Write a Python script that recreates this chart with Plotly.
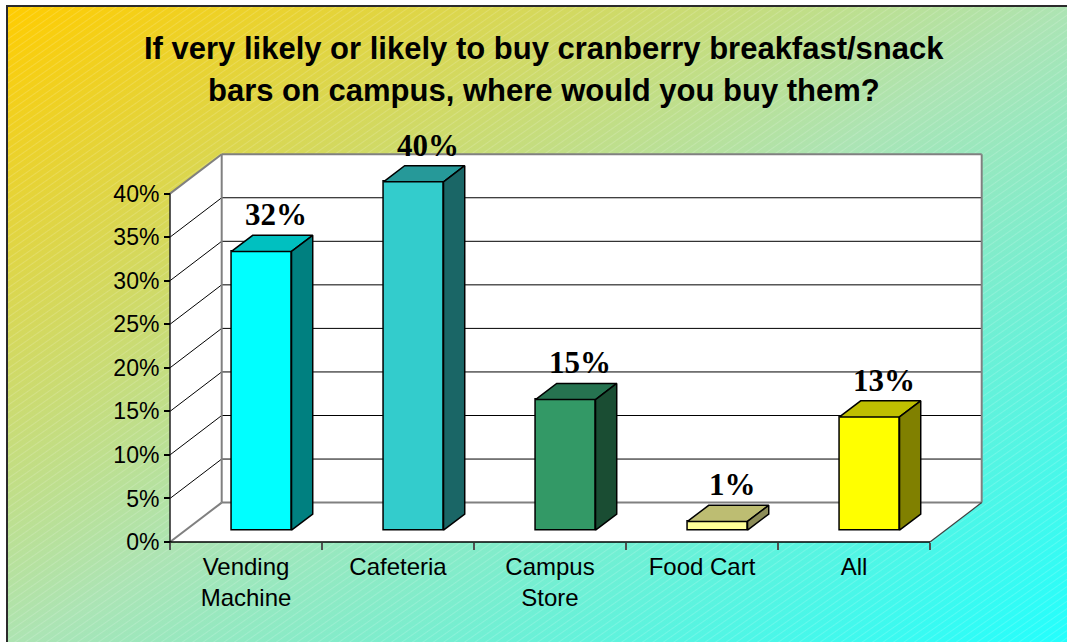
import base64
import plotly.graph_objects as go

# ---- data -------------------------------------------------------------
categories = ["Vending<br>Machine", "Cafeteria", "Campus<br>Store", "Food Cart", "All"]
shares = [32, 40, 15, 1, 13]            # percent of respondents
y_ticks = [0, 5, 10, 15, 20, 25, 30, 35, 40]

# ---- styles -----------------------------------------------------------
front_colors = ["#00FFFF", "#33CCCC", "#339966", "#FFFF99", "#FFFF00"]
top_colors = ["#00C0C0", "#269999", "#267350", "#BDBD72", "#BFBF00"]
side_colors = ["#008080", "#1A6666", "#1A4D33", "#8C8C58", "#808000"]

W, H = 1067, 642

# front plane of the 3-D box, in page pixels
FRONT_LEFT_PX, FRONT_RIGHT_PX = 170.0, 930.0
ZERO_PX, TOP_PX = 542.0, 193.6
n = len(categories)
y_max = y_ticks[-1]
px_per_x = (FRONT_RIGHT_PX - FRONT_LEFT_PX) / n
px_per_y = (ZERO_PX - TOP_PX) / y_max

# depth of the box expressed in axis units
DEPTH_X = 51.7 / px_per_x
DEPTH_Y = 39.4 / px_per_y

# bar geometry (fractions of category width / box depth)
BAR_W = 0.395
BAR_Z0 = 0.30
BAR_DEPTH = 0.41

x_lo, x_hi = -0.5, n - 0.5
x_range = [-0.6, x_hi + DEPTH_X + 0.06]
y_range = [-1.5, y_max + DEPTH_Y + 1.0]


def x_px(v):
    return FRONT_LEFT_PX + (v - x_lo) * px_per_x


def y_px(v):
    return ZERO_PX - v * px_per_y


x_domain = [x_px(x_range[0]) / W, x_px(x_range[1]) / W]
y_domain = [1 - y_px(y_range[0]) / H, 1 - y_px(y_range[1]) / H]

# ---- background: diagonal gradient inside a framed panel ---------------
svg = f"""<svg xmlns="http://www.w3.org/2000/svg" width="{W}" height="{H}" viewBox="0 0 {W} {H}">
<defs>
<linearGradient id="g" x1="0" y1="0" x2="1" y2="1">
<stop offset="0" stop-color="#FFCC00"/>
<stop offset="0.5" stop-color="#ACE4B4"/>
<stop offset="1" stop-color="#1FFFFF"/>
</linearGradient>
<pattern id="h" width="6" height="6" patternUnits="userSpaceOnUse" patternTransform="rotate(-35)">
<line x1="0" y1="0.5" x2="6" y2="0.5" stroke="#FFFFFF" stroke-width="1" stroke-opacity="0.16"/>
</pattern>
</defs>
<rect width="{W}" height="{H}" fill="#FFFFFF"/>
<rect x="7" y="6" width="{W + 4}" height="{H + 4}" fill="url(#g)" stroke="#2B2B2B" stroke-width="2"/>
<rect x="8" y="7" width="{W}" height="{H}" fill="url(#h)"/>
</svg>"""
bg_uri = "data:image/svg+xml;base64," + base64.b64encode(svg.encode()).decode()

fig = go.Figure()

# ---- box walls, floor and grid ----------------------------------------
bx0, bx1 = x_lo + DEPTH_X, x_hi + DEPTH_X
shapes = []


def poly(pts, fill, line_color=None, width=0):
    path = "M " + " L ".join(f"{x},{y}" for x, y in pts) + " Z"
    return dict(type="path", path=path, xref="x", yref="y", layer="below",
                fillcolor=fill, line=dict(color=line_color or fill, width=width))


def seg(x0, y0, x1, y1, color, width):
    return dict(type="line", x0=x0, y0=y0, x1=x1, y1=y1, xref="x", yref="y",
                layer="below", line=dict(color=color, width=width))


shapes.append(poly([(x_lo, 0), (x_lo, y_max), (bx0, y_max + DEPTH_Y), (bx0, DEPTH_Y)], "#FFFFFF"))
shapes.append(poly([(bx0, DEPTH_Y), (bx0, y_max + DEPTH_Y), (bx1, y_max + DEPTH_Y), (bx1, DEPTH_Y)], "#FFFFFF"))
shapes.append(poly([(x_lo, 0), (x_hi, 0), (bx1, DEPTH_Y), (bx0, DEPTH_Y)], "#FFFFFF"))

for v in y_ticks[1:-1]:
    shapes.append(seg(x_lo, v, bx0, v + DEPTH_Y, "#000000", 1))
    shapes.append(seg(bx0, v + DEPTH_Y, bx1, v + DEPTH_Y, "#000000", 1))

GRAY = "#808080"
shapes += [
    seg(x_lo, y_max, bx0, y_max + DEPTH_Y, GRAY, 2),
    seg(bx0, y_max + DEPTH_Y, bx1, y_max + DEPTH_Y, GRAY, 2),
    seg(bx1, y_max + DEPTH_Y, bx1, DEPTH_Y, GRAY, 2),
    seg(bx0, DEPTH_Y, bx1, DEPTH_Y, GRAY, 2),
    seg(bx0, DEPTH_Y, bx0, y_max + DEPTH_Y, GRAY, 2),
    seg(x_lo, 0, bx0, DEPTH_Y, GRAY, 2),
    seg(x_hi, 0, bx1, DEPTH_Y, "#404040", 1.2),
    seg(x_lo, 0, x_lo, y_max, "#202020", 1.5),
    seg(x_lo, 0, x_hi, 0, "#000000", 1.5),
]

# ---- bars: front faces drawn as a bar trace, tops and sides as polygons --
shift_x = BAR_Z0 * DEPTH_X
base = BAR_Z0 * DEPTH_Y
dx = BAR_DEPTH * DEPTH_X
dy = BAR_DEPTH * DEPTH_Y
xs = [i + shift_x for i in range(n)]

fig.add_trace(go.Bar(
    x=xs, y=shares, base=base, width=BAR_W,
    marker=dict(color=front_colors, line=dict(color="#000000", width=1.5)),
    hoverinfo="skip", showlegend=False,
))

for i, v in enumerate(shares):
    xl = xs[i] - BAR_W / 2
    xr = xs[i] + BAR_W / 2
    top = base + v
    fig.add_trace(go.Scatter(
        x=[xl, xr, xr + dx, xl + dx, xl], y=[top, top, top + dy, top + dy, top],
        mode="lines", fill="toself", fillcolor=top_colors[i],
        line=dict(color="#000000", width=1.5), hoverinfo="skip", showlegend=False,
    ))
    fig.add_trace(go.Scatter(
        x=[xr, xr + dx, xr + dx, xr, xr], y=[base, base + dy, top + dy, top, base],
        mode="lines", fill="toself", fillcolor=side_colors[i],
        line=dict(color="#000000", width=1.5), hoverinfo="skip", showlegend=False,
    ))

# value labels above each bar
annotations = []
for i, v in enumerate(shares):
    annotations.append(dict(
        x=i + 0.2, y=base + v + dy, xref="x", yref="y",
        text=f"<b>{v}%</b>", showarrow=False, xanchor="center", yanchor="bottom",
        yshift=1, font=dict(family="Liberation Serif", size=31, color="#000000"),
    ))

# two-line title
title_lines = ["If very likely or likely to buy cranberry breakfast/snack",
               "bars on campus, where would you buy them?"]
for k, (line, cy) in enumerate(zip(title_lines, [48.5, 90.5])):
    annotations.append(dict(
        x=544 / W, y=1 - cy / H, xref="paper", yref="paper",
        text=f"<b>{line}</b>", showarrow=False, xanchor="center", yanchor="middle",
        font=dict(family="Liberation Sans", size=31, color="#000000"),
    ))

fig.update_layout(
    width=W, height=H,
    margin=dict(l=0, r=0, t=0, b=0),
    paper_bgcolor="#FFFFFF",
    plot_bgcolor="rgba(0,0,0,0)",
    showlegend=False,
    shapes=shapes,
    annotations=annotations,
    images=[dict(source=bg_uri, xref="paper", yref="paper", x=0, y=1,
                 sizex=1, sizey=1, xanchor="left", yanchor="top",
                 sizing="stretch", layer="below")],
    xaxis=dict(
        range=x_range, domain=x_domain, anchor="free", position=1 - ZERO_PX / H,
        tickvals=list(range(n)), ticktext=categories, ticks="",
        showgrid=False, zeroline=False, showline=False,
        tickfont=dict(family="Liberation Sans", size=24, color="#000000"),
        ticklabelstandoff=8,
        minor=dict(tickvals=[i - 0.5 for i in range(n + 1)], ticks="outside",
                   ticklen=7, tickwidth=1.5, tickcolor="#505050", showgrid=False),
    ),
    yaxis=dict(
        range=y_range, domain=y_domain, anchor="free", position=FRONT_LEFT_PX / W,
        tickvals=y_ticks, ticktext=[f"{v}%" for v in y_ticks],
        ticks="outside", ticklen=6, tickwidth=1.5, tickcolor="#000000",
        showgrid=False, zeroline=False, showline=False,
        tickfont=dict(family="Liberation Sans", size=23, color="#000000"),
    ),
    bargap=0,
)

fig.write_html("out.html")
